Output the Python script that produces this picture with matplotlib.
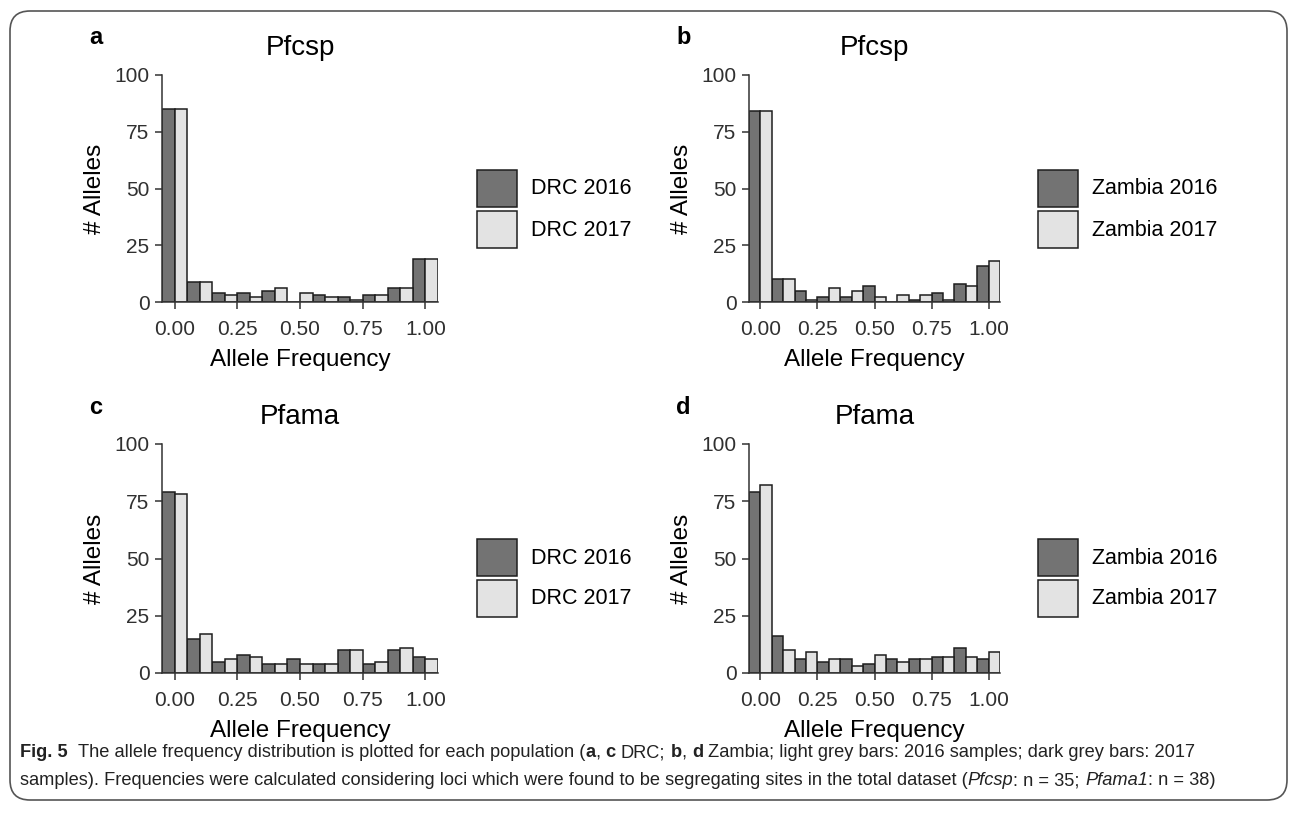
import matplotlib
matplotlib.use("Agg")
import matplotlib.pyplot as plt
from matplotlib.patches import Rectangle, FancyBboxPatch
from matplotlib.transforms import IdentityTransform

# --- data: allele counts per frequency bin ---
bin_centers = [0.0, 0.1, 0.2, 0.3, 0.4, 0.5, 0.6, 0.7, 0.8, 0.9, 1.0]
x_ticks = [0.0, 0.25, 0.5, 0.75, 1.0]
x_tick_labels = ["0.00", "0.25", "0.50", "0.75", "1.00"]
y_ticks = [0, 25, 50, 75, 100]

drc_pfcsp_2016 = [85, 9, 4, 4, 5, 0, 3, 2, 3, 6, 19]
drc_pfcsp_2017 = [85, 9, 3, 2, 6, 4, 2, 1, 3, 6, 19]
zam_pfcsp_2016 = [84, 10, 5, 2, 2, 7, 0, 1, 4, 8, 16]
zam_pfcsp_2017 = [84, 10, 1, 6, 5, 2, 3, 3, 1, 7, 18]
drc_pfama_2016 = [79, 15, 5, 8, 4, 6, 4, 10, 4, 10, 7]
drc_pfama_2017 = [78, 17, 6, 7, 4, 4, 4, 10, 5, 11, 6]
zam_pfama_2016 = [79, 16, 6, 5, 6, 4, 6, 6, 7, 11, 6]
zam_pfama_2017 = [82, 10, 9, 6, 3, 8, 5, 6, 7, 7, 9]

panel_letters = ["a", "b", "c", "d"]
panel_titles = ["Pfcsp", "Pfcsp", "Pfama", "Pfama"]
legend_labels = [["DRC 2016", "DRC 2017"], ["Zambia 2016", "Zambia 2017"],
                 ["DRC 2016", "DRC 2017"], ["Zambia 2016", "Zambia 2017"]]
series = [(drc_pfcsp_2016, drc_pfcsp_2017), (zam_pfcsp_2016, zam_pfcsp_2017),
          (drc_pfama_2016, drc_pfama_2017), (zam_pfama_2016, zam_pfama_2017)]

# --- styling ---
W, H = 1290, 814
dark = "#737373"
light = "#e3e3e3"
edge = "#1e1e1e"
axcol = "#333333"
plt.rcParams["font.family"] = ["Liberation Sans", "DejaVu Sans"]

fig = plt.figure(figsize=(W / 100, H / 100), dpi=100)
px = IdentityTransform()

# panel boxes in pixels: left, top, right, bottom
boxes = [(162, 75, 438, 302), (749, 75, 1000, 302),
         (162, 444, 438, 673), (749, 444, 1000, 673)]
legend_x = [477, 1038, 477, 1038]
legend_y = [170, 170, 539, 539]

bar_w = 0.05
for i, (l, t, r, b) in enumerate(boxes):
    ax = fig.add_axes([l / W, 1 - b / H, (r - l) / W, (b - t) / H])
    d16, d17 = series[i]
    ax.bar([c - bar_w / 2 for c in bin_centers], d16, width=bar_w,
           color=dark, edgecolor=edge, linewidth=1.1)
    ax.bar([c + bar_w / 2 for c in bin_centers], d17, width=bar_w,
           color=light, edgecolor=edge, linewidth=1.1)
    ax.set_xlim(-0.05, 1.05)
    ax.set_ylim(0, 100)
    ax.set_xticks(x_ticks)
    ax.set_xticklabels(x_tick_labels)
    ax.set_yticks(y_ticks)
    for s in ["top", "right"]:
        ax.spines[s].set_visible(False)
    for s in ["left", "bottom"]:
        ax.spines[s].set_color(axcol)
        ax.spines[s].set_linewidth(1.1)
    ax.tick_params(direction="out", length=5, width=1.1, color=axcol,
                   labelsize=15, labelcolor="#303030")
    ax.tick_params(axis="x", pad=8)
    ax.tick_params(axis="y", pad=4)
    ax.set_facecolor("none")

    cx = (l + r) / 2
    fig.text(cx / W, 1 - (t - 20) / H, panel_titles[i], ha="center",
             va="baseline", fontsize=20)
    fig.text((l - 67) / W, 1 - (b - t) / 2 / H - t / H, "# Alleles",
             rotation=90, ha="center", va="center", fontsize=17.5)
    fig.text(cx / W, 1 - (b + 58) / H, "Allele Frequency", ha="center",
             va="center", fontsize=17.5)
    fig.text((l - 73) / W, 1 - (t - 37) / H, panel_letters[i],
             fontweight="bold", ha="left", va="center", fontsize=17)

    # legend keys
    lx, ly = legend_x[i], legend_y[i]
    for k, col in enumerate([dark, light]):
        y0 = ly + k * 41
        fig.add_artist(Rectangle((lx, H - y0 - 37), 40, 37, transform=px,
                                 facecolor=col, edgecolor=edge, linewidth=1.1))
        fig.text((lx + 54) / W, 1 - (y0 + 19) / H, legend_labels[i][k],
                 ha="left", va="center", fontsize=15.5)

# rounded frame around the figure
fig.add_artist(FancyBboxPatch((10, H - 800), 1277, 789,
                              boxstyle="round,pad=0,rounding_size=20",
                              transform=px, fill=False, edgecolor="#555555",
                              linewidth=1.2))

# --- caption with mixed bold / italic pieces ---
cap_family = ["Liberation Sans Narrow", "Liberation Sans", "DejaVu Sans"]
line1 = [("Fig. 5", "bold", "normal"),
         ("  The allele frequency distribution is plotted for each population (", "normal", "normal"),
         ("a", "bold", "normal"), (", ", "normal", "normal"), ("c", "bold", "normal"),
         (" DRC; ", "normal", "normal"), ("b", "bold", "normal"), (", ", "normal", "normal"),
         ("d", "bold", "normal"),
         (" Zambia; light grey bars: 2016 samples; dark grey bars: 2017", "normal", "normal")]
line2 = [("samples). Frequencies were calculated considering loci which were found to be "
          "segregating sites in the total dataset (", "normal", "normal"),
         ("Pfcsp", "normal", "italic"), (": n = 35; ", "normal", "normal"),
         ("Pfama1", "normal", "italic"), (": n = 38)", "normal", "normal")]

renderer = fig.canvas.get_renderer()


def space_width(size):
    a = fig.text(0, 0, "a a", fontsize=size, family=cap_family)
    b = fig.text(0, 0, "aa", fontsize=size, family=cap_family)
    w = a.get_window_extent(renderer).width - b.get_window_extent(renderer).width
    a.remove()
    b.remove()
    return w


def draw_line(pieces, x0, y_base, size):
    sw = space_width(size)
    x = x0
    arts = []
    for s, weight, style in pieces:
        lead = len(s) - len(s.lstrip(" "))
        trail = len(s) - len(s.rstrip(" "))
        x += lead * sw
        core = s.strip(" ")
        t = fig.text(x / W, 1 - y_base / H, core, fontsize=size, fontweight=weight,
                     fontstyle=style, family=cap_family, va="baseline", ha="left",
                     color="#222222")
        arts.append(t)
        x = t.get_window_extent(renderer).x1 + trail * sw
    return arts, x


# fit caption width so line 1 ends near x = 1200
arts, end = draw_line(line1, 20, 757, 12)
for a in arts:
    a.remove()
cap_size = 12 * (1200 - 20) / (end - 20)
draw_line(line1, 20, 757, cap_size)
draw_line(line2, 20, 785, cap_size)

fig.savefig("out.png", dpi=100)
